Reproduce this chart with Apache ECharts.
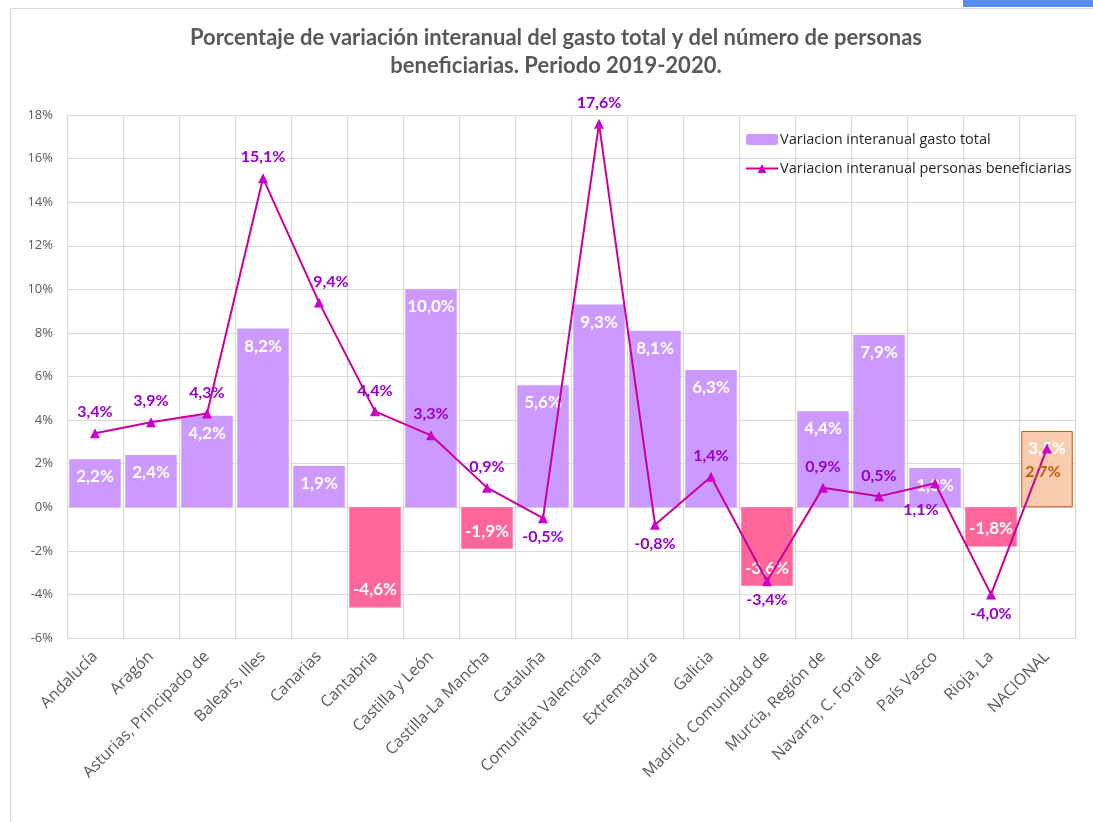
<!DOCTYPE html>
<html>
<head>
<meta charset="utf-8">
<script src="https://cdn.jsdelivr.net/npm/echarts@6/dist/echarts.min.js"></script>
<style>
  html, body { margin: 0; padding: 0; background: #fff; }
  #chart { width: 1093px; height: 822px; }
</style>
</head>
<body>
<div id="chart"></div>
<script>
// datos
var categorias = ['Andalucía', 'Aragón', 'Asturias, Principado de', 'Balears, Illes', 'Canarias',
  'Cantabria', 'Castilla y León', 'Castilla-La Mancha', 'Cataluña', 'Comunitat Valenciana',
  'Extremadura', 'Galicia', 'Madrid, Comunidad de', 'Murcia, Región de', 'Navarra, C. Foral de',
  'País Vasco', 'Rioja, La', 'NACIONAL'];
var gastoTotal = [2.2, 2.4, 4.2, 8.2, 1.9, -4.6, 10.0, -1.9, 5.6, 9.3, 8.1, 6.3, -3.6, 4.4, 7.9, 1.8, -1.8, 3.5];
var personas = [3.4, 3.9, 4.3, 15.1, 9.4, 4.4, 3.3, 0.9, -0.5, 17.6, -0.8, 1.4, -3.4, 0.9, 0.5, 1.1, -4.0, 2.7];
var yTicks = [-6, -4, -2, 0, 2, 4, 6, 8, 10, 12, 14, 16, 18];

function pct(v) { return v.toFixed(1).replace('.', ',') + '%'; }

var chart = echarts.init(document.getElementById('chart'));

var barData = gastoTotal.map(function (v, i) {
  var nac = categorias[i] === 'NACIONAL';
  return {
    value: v,
    itemStyle: nac ? { color: '#F8CBAD', borderColor: '#C55A11', borderWidth: 1 }
                   : { color: v >= 0 ? '#CC99FF' : '#FF6699' },
    label: { position: v >= 0 ? 'insideTop' : 'insideBottom' }
  };
});

var lineData = personas.map(function (v, i) {
  var d = { value: v };
  if ([8, 10, 12, 16].indexOf(i) >= 0) d.label = { position: 'bottom', distance: 6 };
  if (i === 15) d.label = { position: 'bottom', offset: [-14, 6] };
  if (i === 4) d.label = { position: 'top', offset: [12, 0] };
  if (i === 6) d.label = { position: 'top', distance: 8 };
  if (i === 17) d.label = { position: 'bottom', offset: [-4, 2], color: '#C55A11' };
  return d;
});

chart.setOption({
  animation: false,
  textStyle: { fontFamily: '"Open Sans", sans-serif' },
  title: {
    text: 'Porcentaje de variación interanual del gasto total y del número de personas\nbeneficiarias. Periodo 2019-2020.',
    left: 551, top: 19, textAlign: 'center',
    textStyle: { fontSize: 22, fontWeight: 'bold', color: '#595959', lineHeight: 28, fontFamily: 'Lato, sans-serif' }
  },
  graphic: [
    { type: 'rect', shape: { x: 10.5, y: 8.5, width: 1120, height: 900 }, style: { fill: 'none', stroke: '#D9D9D9', lineWidth: 1 }, silent: true },
    { type: 'rect', shape: { x: 963, y: 0, width: 130, height: 7 }, style: { fill: '#5B8DEF' }, silent: true }
  ],
  legend: {
    orient: 'vertical', left: 740, top: 127, itemGap: 14,
    itemWidth: 32, itemHeight: 11,
    textStyle: { fontSize: 14.5, color: '#262626', fontFamily: '"Open Sans", sans-serif', padding: [0, 0, 0, -3] },
    data: ['Variacion interanual gasto total', 'Variacion interanual personas beneficiarias']
  },
  grid: { left: 67, right: 18, top: 115, bottom: 184, containLabel: false },
  xAxis: {
    type: 'category', data: categorias,
    axisLine: { show: false }, axisTick: { show: false },
    splitLine: { show: true, lineStyle: { color: '#D9D9D9', width: 1 } },
    axisLabel: { rotate: 45, interval: 0, fontSize: 16, color: '#595959', margin: 16, fontFamily: '"Open Sans", sans-serif' }
  },
  yAxis: {
    type: 'value', min: yTicks[0], max: yTicks[yTicks.length - 1], interval: 2,
    axisLine: { show: false }, axisTick: { show: false },
    splitLine: { lineStyle: { color: '#D9D9D9', width: 1 } },
    axisLabel: { fontSize: 13, color: '#595959', margin: 14, fontFamily: '"Open Sans", sans-serif',
      formatter: function (v) { return v + '%'; } }
  },
  series: [
    {
      name: 'Variacion interanual gasto total', type: 'bar', data: barData,
      barCategoryGap: '8%',
      itemStyle: { color: '#CC99FF' },
      label: { show: true, color: '#fff', fontWeight: 'bold', fontSize: 17, distance: 9, fontFamily: 'Lato, sans-serif',
        formatter: function (p) { return pct(p.value); } }
    },
    {
      name: 'Variacion interanual personas beneficiarias', type: 'line', data: lineData,
      symbol: 'triangle', symbolSize: 10,
      lineStyle: { color: '#CC0099', width: 2 },
      itemStyle: { color: '#CC00CC' },
      label: { show: true, position: 'top', distance: 8, color: '#9900CC', fontWeight: 'bold', fontSize: 16,
        fontFamily: 'Lato, sans-serif',
        formatter: function (p) { return pct(p.value); } },
      z: 5
    }
  ]
});
</script>
</body>
</html>
